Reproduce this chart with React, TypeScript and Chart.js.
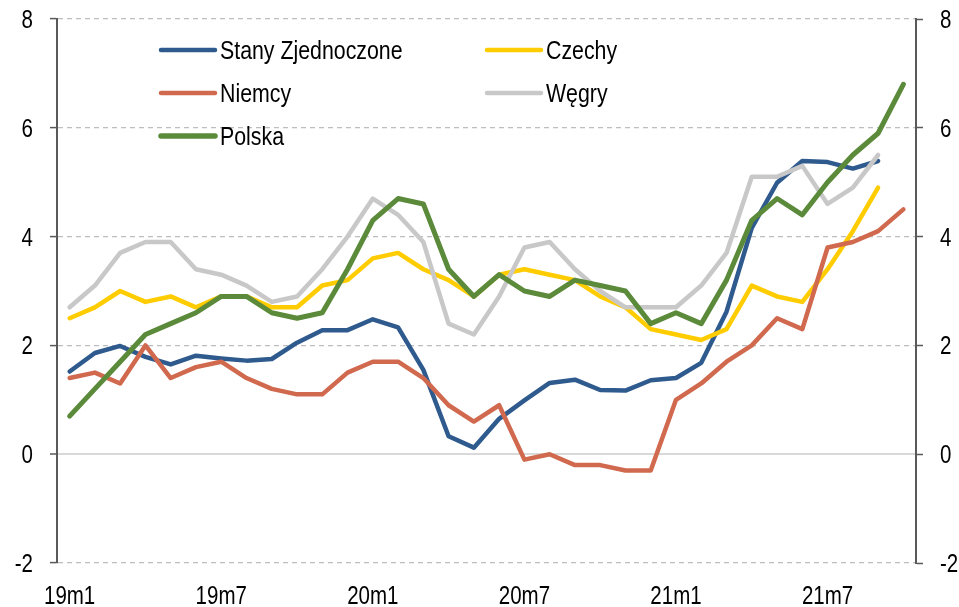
import React, { useEffect, useRef } from "react";
import { Chart, registerables } from "chart.js";

Chart.register(...registerables);

const months: string[] = [
  "19m1", "19m2", "19m3", "19m4", "19m5", "19m6", "19m7", "19m8", "19m9", "19m10", "19m11", "19m12",
  "20m1", "20m2", "20m3", "20m4", "20m5", "20m6", "20m7", "20m8", "20m9", "20m10", "20m11", "20m12",
  "21m1", "21m2", "21m3", "21m4", "21m5", "21m6", "21m7", "21m8", "21m9", "21m10",
];

const usa: (number | null)[] = [
  1.52, 1.86, 1.99, 1.79, 1.65, 1.81, 1.76, 1.72, 1.75, 2.05, 2.28, 2.28,
  2.48, 2.33, 1.55, 0.33, 0.12, 0.65, 0.99, 1.31, 1.37, 1.18, 1.17, 1.36,
  1.4, 1.68, 2.62, 4.16, 4.99, 5.39, 5.37, 5.25, 5.39, null,
];
const czechy: (number | null)[] = [
  2.5, 2.7, 3.0, 2.8, 2.9, 2.7, 2.9, 2.9, 2.7, 2.7, 3.1, 3.2,
  3.6, 3.7, 3.4, 3.2, 2.9, 3.3, 3.4, 3.3, 3.2, 2.9, 2.7, 2.3,
  2.2, 2.1, 2.3, 3.1, 2.9, 2.8, 3.4, 4.1, 4.9, null,
];
const niemcy: (number | null)[] = [
  1.4, 1.5, 1.3, 2.0, 1.4, 1.6, 1.7, 1.4, 1.2, 1.1, 1.1, 1.5,
  1.7, 1.7, 1.4, 0.9, 0.6, 0.9, -0.1, 0.0, -0.2, -0.2, -0.3, -0.3,
  1.0, 1.3, 1.7, 2.0, 2.5, 2.3, 3.8, 3.9, 4.1, 4.5,
];
const wegry: (number | null)[] = [
  2.7, 3.1, 3.7, 3.9, 3.9, 3.4, 3.3, 3.1, 2.8, 2.9, 3.4, 4.0,
  4.7, 4.4, 3.9, 2.4, 2.2, 2.9, 3.8, 3.9, 3.4, 3.0, 2.7, 2.7,
  2.7, 3.1, 3.7, 5.1, 5.1, 5.3, 4.6, 4.9, 5.5, null,
];
const polska: (number | null)[] = [
  0.7, 1.2, 1.7, 2.2, 2.4, 2.6, 2.9, 2.9, 2.6, 2.5, 2.6, 3.4,
  4.3, 4.7, 4.6, 3.4, 2.9, 3.3, 3.0, 2.9, 3.2, 3.1, 3.0, 2.4,
  2.6, 2.4, 3.2, 4.3, 4.7, 4.4, 5.0, 5.5, 5.9, 6.8,
];

const seriesNames = ["Stany Zjednoczone", "Czechy", "Niemcy", "Węgry", "Polska"];
const yTicks = [-2, 0, 2, 4, 6, 8];
const xLabelEvery = 6;

const COLORS = {
  usa: "#2F5A8E",
  czechy: "#FFCC00",
  niemcy: "#D0694E",
  wegry: "#C8C8C8",
  polska: "#5A8A3A",
};

const FONT = '"Liberation Sans", Arial, sans-serif';
const NARROW = 0.82;

function narrowText(ctx: CanvasRenderingContext2D, text: string, x: number, y: number, align: CanvasTextAlign, size: number) {
  ctx.save();
  ctx.translate(x, y);
  ctx.scale(NARROW, 1);
  ctx.font = `${size}px ${FONT}`;
  ctx.fillStyle = "#000";
  ctx.textAlign = align;
  ctx.textBaseline = "alphabetic";
  ctx.fillText(text, 0, 0);
  ctx.restore();
}

export default function App() {
  const canvasRef = useRef<HTMLCanvasElement | null>(null);

  useEffect(() => {
    document.body.style.margin = "0";
    const canvas = canvasRef.current;
    if (!canvas) return;

    const legendItems = [
      { name: seriesNames[0], color: COLORS.usa, width: 4.5, x: 161, y: 50 },
      { name: seriesNames[1], color: COLORS.czechy, width: 4.5, x: 487, y: 50 },
      { name: seriesNames[2], color: COLORS.niemcy, width: 4.5, x: 161, y: 93 },
      { name: seriesNames[3], color: COLORS.wegry, width: 4.5, x: 487, y: 93 },
      { name: seriesNames[4], color: COLORS.polska, width: 5.5, x: 161, y: 136 },
    ];

    const labelsPlugin = {
      id: "narrowLabels",
      afterDraw(chart: any) {
        const ctx: CanvasRenderingContext2D = chart.ctx;
        const ys = chart.scales.y;
        const ys2 = chart.scales.y2;
        const xs = chart.scales.x;
        yTicks.forEach((v) => {
          const py = ys.getPixelForValue(v);
          narrowText(ctx, String(v), ys.right - 24, py + 9, "right", 25);
          const py2 = ys2.getPixelForValue(v);
          narrowText(ctx, String(v), ys2.left + 24, py2 + 9, "left", 25);
        });
        months.forEach((m, i) => {
          if (i % xLabelEvery !== 0) return;
          const px = xs.getPixelForTick(i);
          narrowText(ctx, m, px, xs.top + 41, "center", 25);
        });
        ctx.save();
        legendItems.forEach((it) => {
          ctx.beginPath();
          ctx.strokeStyle = it.color;
          ctx.lineWidth = it.width;
          ctx.lineCap = "round";
          ctx.moveTo(it.x, it.y);
          ctx.lineTo(it.x + 54, it.y);
          ctx.stroke();
          narrowText(ctx, it.name, it.x + 59, it.y + 8.5, "left", 26);
        });
        ctx.restore();
      },
    };

    const ds = (label: string, data: (number | null)[], color: string, width: number) => ({
      label,
      data,
      borderColor: color,
      backgroundColor: color,
      borderWidth: width,
      pointRadius: 0,
      tension: 0,
      fill: false,
      spanGaps: false,
      borderJoinStyle: "round" as const,
      borderCapStyle: "round" as const,
    });

    const isZero = (c: any) => c && c.tick && c.tick.value === 0;

    const chart = new Chart(canvas, {
      type: "line",
      data: {
        labels: months,
        datasets: [
          ds(seriesNames[4], polska, COLORS.polska, 5),
          ds(seriesNames[3], wegry, COLORS.wegry, 4.5),
          ds(seriesNames[2], niemcy, COLORS.niemcy, 4.5),
          ds(seriesNames[1], czechy, COLORS.czechy, 4.5),
          ds(seriesNames[0], usa, COLORS.usa, 4.5),
        ],
      },
      options: {
        animation: false,
        responsive: false,
        maintainAspectRatio: false,
        layout: { padding: { top: 19, left: 0, right: 0, bottom: 0 } },
        plugins: {
          legend: { display: false },
          tooltip: { enabled: false },
        },
        scales: {
          x: {
            type: "category",
            offset: true,
            grid: { display: false, drawTicks: false },
            border: { display: false },
            ticks: { display: false, autoSkip: false, maxRotation: 0 },
            afterFit: (s: any) => {
              s.height = 44;
            },
          },
          y: {
            type: "linear",
            position: "left",
            min: yTicks[0],
            max: yTicks[yTicks.length - 1],
            afterBuildTicks: (s: any) => {
              s.ticks = yTicks.map((v) => ({ value: v }));
            },
            grid: {
              color: (c: any) => (isZero(c) ? "#D9D9D9" : "#BDBDBD"),
              lineWidth: (c: any) => (isZero(c) ? 2 : 1.2),
              drawTicks: true,
              tickLength: 7,
              tickColor: "#595959",
              tickWidth: 1.5,
              tickBorderDash: [],
            },
            border: {
              display: true,
              color: "#595959",
              width: 2,
              dash: (c: any) => (c && c.tick && c.tick.value !== 0 ? [5, 4] : []),
            },
            ticks: { display: false },
            afterFit: (s: any) => {
              s.width = 57;
            },
          },
          y2: {
            type: "linear",
            position: "right",
            min: yTicks[0],
            max: yTicks[yTicks.length - 1],
            afterBuildTicks: (s: any) => {
              s.ticks = yTicks.map((v) => ({ value: v }));
            },
            grid: {
              drawOnChartArea: false,
              drawTicks: true,
              tickLength: 7,
              tickColor: "#595959",
              tickWidth: 1.5,
              tickBorderDash: [],
            },
            border: { display: true, color: "#595959", width: 2 },
            ticks: { display: false },
            afterFit: (s: any) => {
              s.width = 43;
            },
          },
        },
      },
      plugins: [labelsPlugin],
    } as any);

    return () => {
      chart.destroy();
    };
  }, []);

  return (
    <div style={{ position: "fixed", left: 0, top: 0, width: 959, height: 607, background: "#fff" }}>
      <canvas ref={canvasRef} width={959} height={607} style={{ width: 959, height: 607, display: "block" }} />
    </div>
  );
}
